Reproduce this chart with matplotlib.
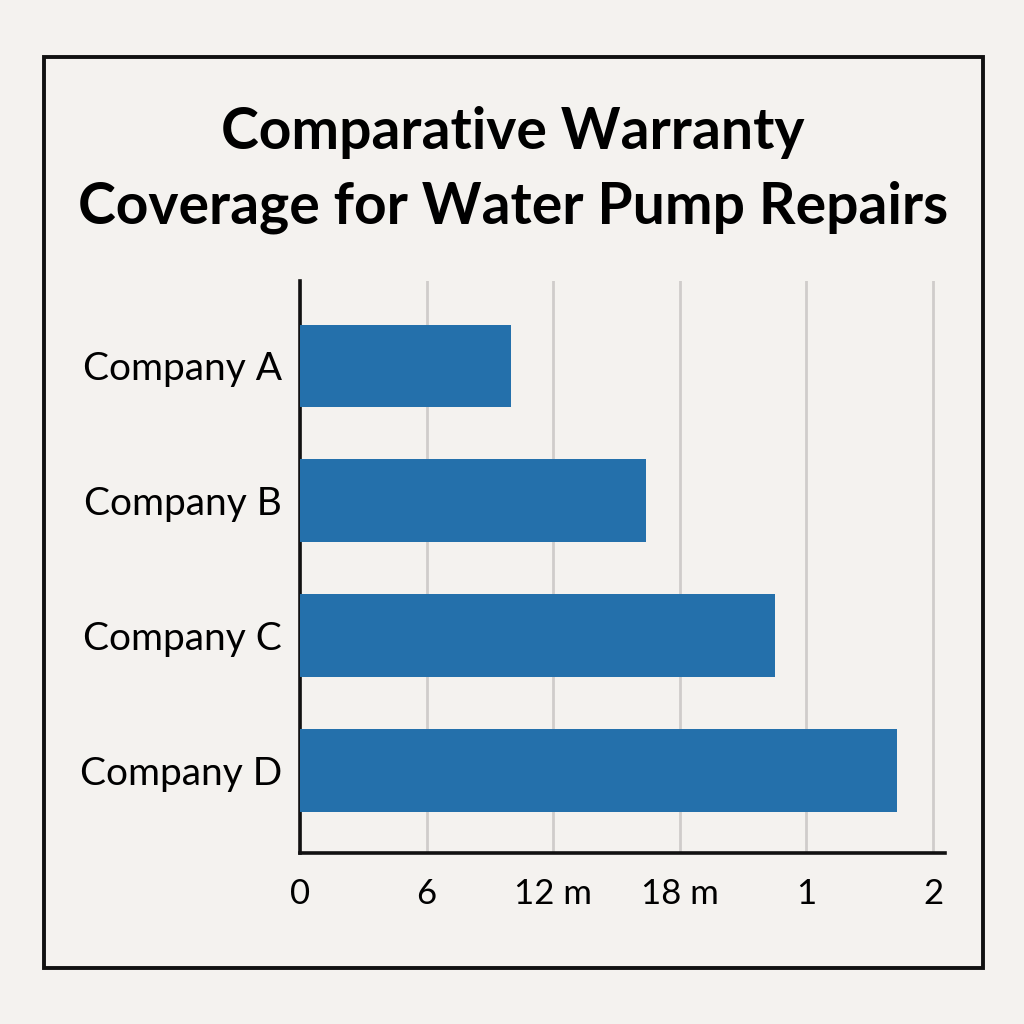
import matplotlib
matplotlib.use("Agg")
import matplotlib.pyplot as plt
from matplotlib.patches import Rectangle

title = "Comparative Warranty\nCoverage for Water Pump Repairs"
companies = ["Company A", "Company B", "Company C", "Company D"]
coverage_months = [10, 16.4, 22.5, 28.3]
tick_values = [0, 6, 12, 18, 24, 30]
tick_labels = ["0", "6", "12 m", "18 m", "1", "2"]

bg = "#f4f2ef"
bar_color = "#2470ab"

fig = plt.figure(figsize=(10.24, 10.24), dpi=100, facecolor=bg)

# outer frame
fig.patches.append(Rectangle((44/1024, 1-968/1024), (983-44)/1024, (968-57)/1024,
                             transform=fig.transFigure, fill=False,
                             edgecolor="#111111", linewidth=2.8))

fig.text(0.501, 1-170/1024, title, ha="center", va="center",
         fontsize=41, fontweight="bold", family=["Lato", "DejaVu Sans"],
         linespacing=1.5, color="#000000")

ax = fig.add_axes([300/1024, 1-853/1024, (945-300)/1024, (853-281)/1024])
ax.set_facecolor(bg)

ypos = list(range(len(companies)))
ax.barh(ypos, coverage_months, height=0.615, color=bar_color, zorder=3)

ax.set_xlim(0, 30.57)
ax.set_ylim(3.61, -0.63)
ax.set_yticks(ypos)
ax.set_yticklabels(companies, fontsize=28, family=["Lato", "DejaVu Sans"])
ax.set_xticks(tick_values)
ax.set_xticklabels(tick_labels, fontsize=25, family=["Lato", "DejaVu Sans"])
ax.tick_params(axis="both", length=0)
ax.tick_params(axis="y", pad=13)
ax.tick_params(axis="x", pad=18)

ax.grid(axis="x", color="#cfcccb", linewidth=2, zorder=0)
ax.grid(axis="y", visible=False)

for s in ["top", "right"]:
    ax.spines[s].set_visible(False)
for s in ["left", "bottom"]:
    ax.spines[s].set_linewidth(2.6)
    ax.spines[s].set_color("#111111")

fig.savefig("out.png", dpi=100, facecolor=bg)
